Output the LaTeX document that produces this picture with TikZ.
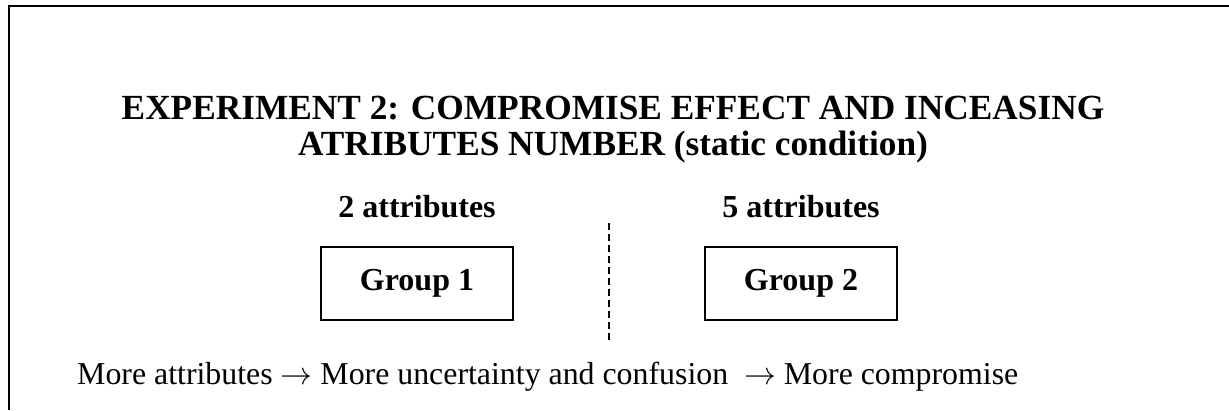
\documentclass[tikz,border=0pt]{standalone}
\usepackage{fix-cm}
\usepackage{fontspec}
\setmainfont{Liberation Serif}
\begin{document}
\begin{tikzpicture}[x=1pt,y=-1pt,
  frameline/.style={line width=2pt},
  titletext/.style={font=\fontsize{35.3}{36}\selectfont\bfseries, anchor=base, inner sep=0pt},
  headtext/.style={font=\fontsize{32}{38}\selectfont\bfseries, anchor=base, inner sep=0pt},
  groupbox/.style={draw, line width=2pt, minimum width=192pt, minimum height=73pt,
                   font=\fontsize{32}{38}\selectfont\bfseries, inner sep=0pt},
  divider/.style={line width=1.6pt, dash pattern=on 7pt off 4pt},
  bodytext/.style={font=\fontsize{31.85}{38}\selectfont, anchor=base west, inner sep=0pt}]
\useasboundingbox (0,0) rectangle (1229,410);
% open frame: left and top edges
\draw[frameline] (9,410) -- (9,6) -- (1229,6);
% heading, two lines
\node[titletext] (title1) at (613,119) {EXPERIMENT 2: COMPROMISE EFFECT AND INCEASING};
\node[titletext] (title2) at (613,155) {ATRIBUTES NUMBER (static condition)};
% the two conditions
\node[headtext] (h1) at (417,217) {2 attributes};
\node[headtext] (h2) at (801,217) {5 attributes};
\node[groupbox] (g1) at (417,283.5) {Group 1};
\node[groupbox] (g2) at (801,283.5) {Group 2};
% dashed separator
\coordinate (dtop) at (609,223);
\coordinate (dbot) at (609,342);
\draw[divider] (dtop) -- (dbot);
% conclusion line
\node[bodytext] (chain) at (77,384)
  {More attributes $\rightarrow$ More uncertainty and confusion \ $\rightarrow$ More compromise};
\end{tikzpicture}
\end{document}
